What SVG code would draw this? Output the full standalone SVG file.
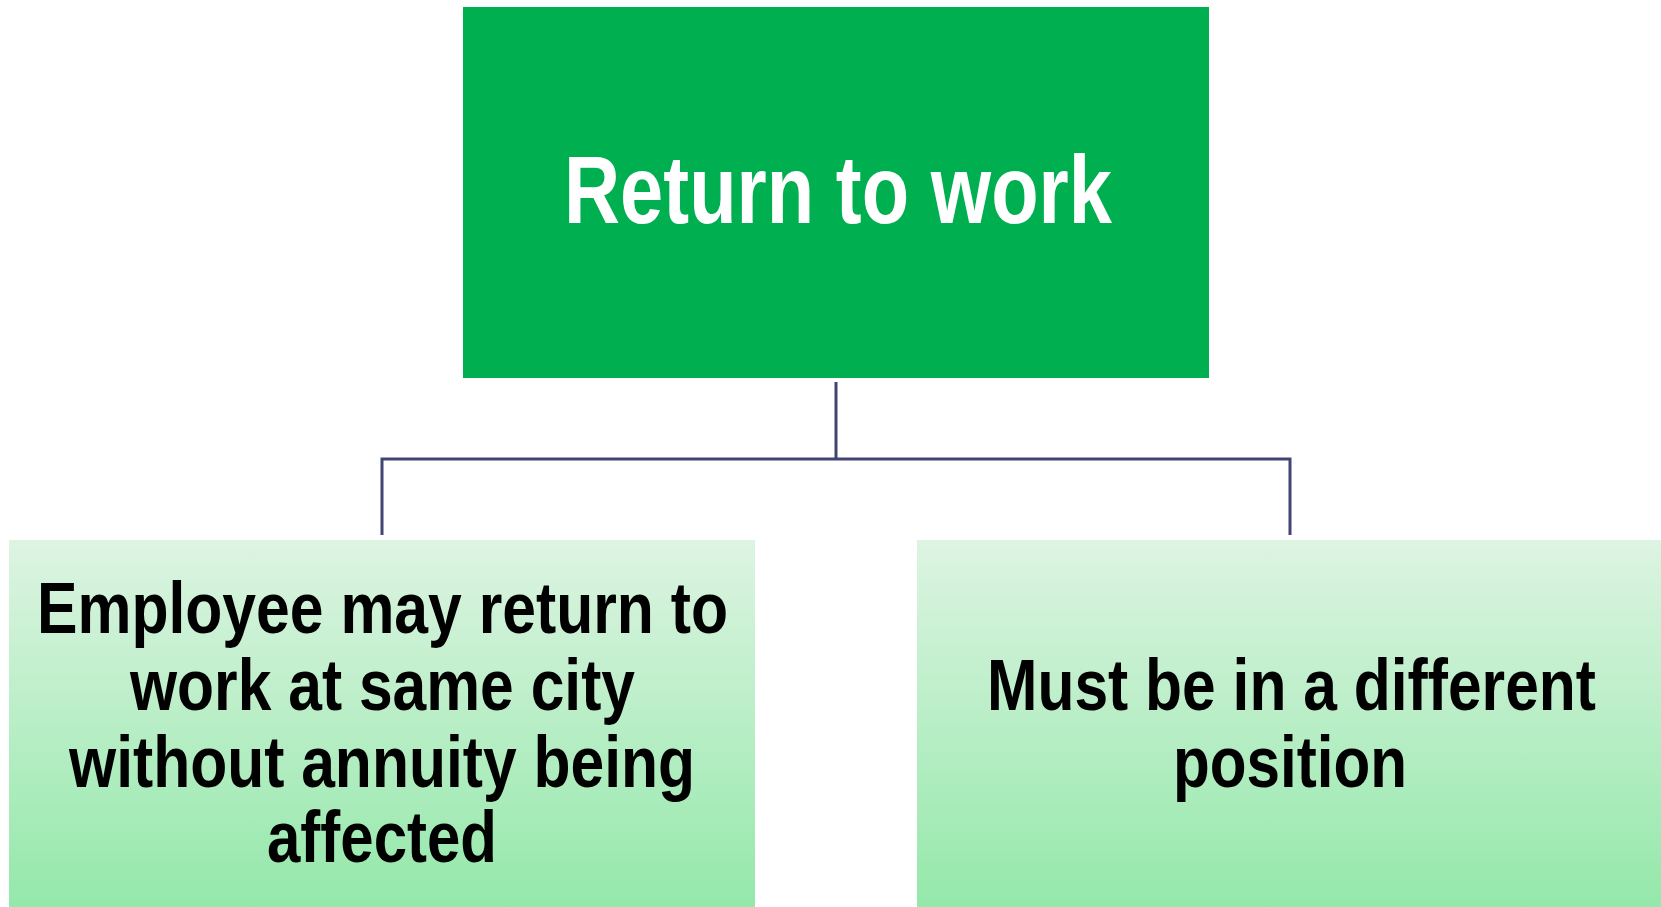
<svg xmlns="http://www.w3.org/2000/svg" width="1661" height="907" viewBox="0 0 1661 907">
<defs>
<linearGradient id="lg" x1="0" y1="0" x2="0" y2="1">
<stop offset="0" stop-color="#ddf4e2"/>
<stop offset="1" stop-color="#94e8aa"/>
</linearGradient>
</defs>
<style>
.t{font-family:"Liberation Sans",Arial,sans-serif;font-weight:bold;text-anchor:middle}
.top{fill:#ffffff;font-size:96px}
.sub{fill:#000000;font-size:72px}
.conn{fill:none;stroke:#414574;stroke-width:3}
</style>
<rect width="1661" height="907" fill="#ffffff"/>
<g id="connectors">
<path class="conn" d="M836 382 V459"/>
<path class="conn" d="M382 535 V459 H1290 V535"/>
</g>
<g id="node-top">
<rect x="463" y="7" width="746" height="371" fill="#00af50"/>
<text class="t top" x="838" y="223" textLength="548" lengthAdjust="spacingAndGlyphs">Return to work</text>
</g>
<g id="node-left">
<rect x="9" y="540" width="746" height="367" fill="url(#lg)"/>
<text class="t sub" x="382.5" y="633" textLength="691" lengthAdjust="spacingAndGlyphs">Employee may return to</text>
<text class="t sub" x="382.5" y="710" textLength="505" lengthAdjust="spacingAndGlyphs">work at same city</text>
<text class="t sub" x="382" y="787" textLength="626" lengthAdjust="spacingAndGlyphs">without annuity being</text>
<text class="t sub" x="382" y="862" textLength="230" lengthAdjust="spacingAndGlyphs">affected</text>
</g>
<g id="node-right">
<rect x="917" y="540" width="744" height="367" fill="url(#lg)"/>
<text class="t sub" x="1291.5" y="710" textLength="609" lengthAdjust="spacingAndGlyphs">Must be in a different</text>
<text class="t sub" x="1290" y="787" textLength="234" lengthAdjust="spacingAndGlyphs">position</text>
</g>
</svg>
